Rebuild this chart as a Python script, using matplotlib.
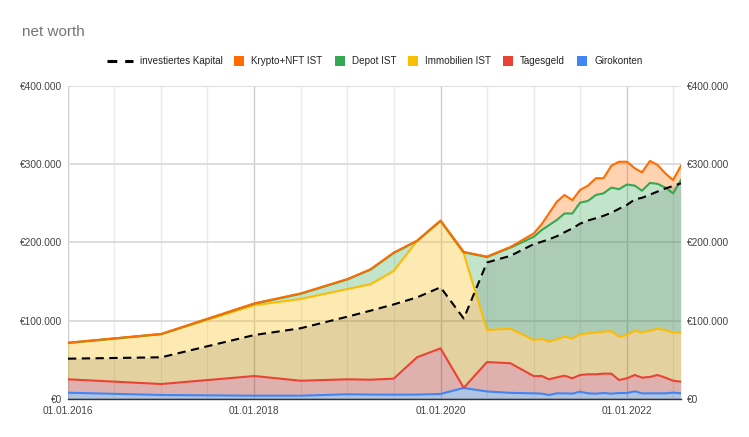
import matplotlib
matplotlib.use("Agg")
import matplotlib.pyplot as plt
import matplotlib.dates as mdates
import numpy as np
from matplotlib.lines import Line2D
from matplotlib.patches import Rectangle
from matplotlib.ticker import FuncFormatter, MultipleLocator

plt.rcParams['font.family'] = ['Liberation Sans', 'DejaVu Sans']

# ---------------- data (values in EUR thousands) ----------------
dates = ["2016-01-01", "2017-01-01", "2018-01-01", "2018-07-01", "2019-01-01",
         "2019-04-01", "2019-07-01", "2019-10-01", "2020-01-01", "2020-04-01",
         "2020-07-01", "2020-10-01", "2021-01-01", "2021-02-01", "2021-03-01",
         "2021-04-01", "2021-05-01", "2021-06-01", "2021-07-01", "2021-08-01",
         "2021-09-01", "2021-10-01", "2021-11-01", "2021-12-01", "2022-01-01",
         "2022-02-01", "2022-03-01", "2022-04-01", "2022-05-01", "2022-06-01",
         "2022-07-01", "2022-08-01"]

girokonten = [8.4, 5.5, 4.6, 4.6, 6.4, 6.0, 5.9, 6.0, 6.8, 14.5,
              10.0, 8.2, 7.6, 7.2, 5.5, 7.6, 7.6, 7.2, 9.7, 7.6,
              7.2, 8.0, 7.2, 8.0, 8.0, 10.2, 7.6, 7.6, 7.6, 7.6, 8.5, 7.6]
tagesgeld = [17.1, 14.0, 25.1, 19.1, 19.1, 19.0, 20.4, 47.6, 58.2, 0.2,
             37.5, 37.8, 21.9, 22.5, 20.0, 20.4, 22.5, 19.6, 21.3, 24.3,
             24.7, 24.7, 25.5, 16.6, 18.8, 20.8, 20.0, 20.9, 23.4, 20.0, 15.2, 14.9]
immobilien = [46.0, 63.5, 90.3, 104.3, 115.2, 121.7, 137.3, 148.4, 162.5, 171.3,
              40.9, 44.0, 46.1, 47.2, 48.0, 48.5, 49.8, 50.9, 51.9, 52.3,
              53.1, 53.6, 54.3, 55.3, 55.2, 56.5, 57.8, 59.0, 59.0, 60.7, 61.3, 62.5]
depot = [0.5, 0.2, 2.0, 6.5, 12.3, 18.6, 22.9, 0.0, 0.1, 1.5,
         93.1, 103.5, 131.8, 139.1, 148.5, 152.2, 157.1, 159.3, 167.9, 168.8,
         175.6, 176.4, 183.0, 188.1, 192.0, 185.0, 180.6, 188.5, 184.8, 181.7, 177.7, 194.7]
krypto = [0.2, 0.2, 0.4, 0.5, 0.4, 0.5, 0.5, 0.3, 0.4, 0.5,
          0.5, 0.8, 4.3, 7.6, 15.0, 23.3, 23.6, 17.0, 16.2, 19.5,
          21.4, 19.3, 28.0, 35.0, 29.0, 22.1, 23.5, 28.0, 24.2, 18.0, 17.0, 18.3]
kapital = [51.8, 53.6, 82.0, 90.6, 105.4, 113.0, 121.0, 130.0, 142.9, 103.0,
           174.5, 183.0, 198.0, 201.0, 204.0, 208.0, 213.0, 218.0, 224.0, 228.0,
           231.0, 234.0, 238.0, 243.0, 248.0, 255.0, 257.0, 261.0, 265.0, 269.0, 272.0, 275.5]

series_names = ["Girokonten", "Tagesgeld", "Immobilien IST", "Depot IST", "Krypto+NFT IST"]
series_colors = ["#4285F4", "#EA4335", "#FBBC04", "#34A853", "#FF6D01"]
kapital_name = "investiertes Kapital"

# ---------------- figure ----------------
W, H = 749, 437
fig = plt.figure(figsize=(W / 100, H / 100), dpi=100)
left_px, right_px, top_px, bot_px = 68, 681, 85.7, 399.3
ax = fig.add_axes([left_px / W, 1 - bot_px / H, (right_px - left_px) / W, (bot_px - top_px) / H])

x = mdates.date2num(np.array(dates, dtype="datetime64[D]"))
stack = np.array([girokonten, tagesgeld, immobilien, depot, krypto]) * 1000.0
kap = np.array(kapital) * 1000.0

ax.stackplot(x, stack, colors=series_colors, alpha=0.3, linewidth=0, zorder=2)
ax.fill_between(x, 0, kap, color="black", alpha=0.1, linewidth=0, zorder=3)

cum = np.cumsum(stack, axis=0)
for i in range(len(series_names)):
    ax.plot(x, cum[i], color=series_colors[i], lw=1.5, zorder=4 + i, solid_joinstyle="round")
ax.plot(x, kap, color="black", lw=1.5, dashes=(4, 2.6), zorder=10)

# axes
ax.set_ylim(0, 400000)
ax.set_xlim(mdates.date2num(np.datetime64("2016-01-01")), mdates.date2num(np.datetime64("2022-08-01")))
ax.yaxis.set_major_locator(MultipleLocator(100000))
ax.yaxis.set_major_formatter(FuncFormatter(lambda v, p: "€" + f"{int(round(v)):,}".replace(",", ".")))
ax.xaxis.set_major_locator(mdates.YearLocator(2, month=1, day=1))
ax.xaxis.set_minor_locator(mdates.MonthLocator(bymonth=[1, 7]))
ax.xaxis.set_major_formatter(mdates.DateFormatter("%d.%m.%Y"))

ax.grid(True, which="major", axis="y", color="#DADADA", lw=1.3, zorder=0)
ax.grid(True, which="major", axis="x", color="#CCCCCC", lw=1.0, zorder=0)
ax.grid(True, which="minor", axis="x", color="#EBEBEB", lw=1.0, zorder=0)
ax.set_axisbelow(True)

for s in ["top", "left", "right"]:
    ax.spines[s].set_visible(False)
ax.spines["bottom"].set_color("#333333")
ax.spines["bottom"].set_linewidth(1.0)
ax.spines["bottom"].set_zorder(20)

ax.tick_params(axis="both", which="both", length=0, labelsize=7.3, labelcolor="#444444")
ax.tick_params(axis="y", labelleft=True, labelright=True, pad=4)
ax.tick_params(axis="x", pad=5)

# title
fig.text(22 / W, 1 - 32 / H, "net worth", fontsize=11, color="#757575", va="center", ha="left")

# legend (manual layout, centred)
fig.canvas.draw()
renderer = fig.canvas.get_renderer()
fs = 7.1
entries = [(kapital_name, "dash", "black")] + [
    (series_names[i], "square", series_colors[i]) for i in range(len(series_names) - 1, -1, -1)]
handle_w = {"dash": 26, "square": 10}
gap_ht, gap_next = 7, 12
widths = []
for name, kind, col in entries:
    t = fig.text(0, 0, name, fontsize=fs)
    bb = t.get_window_extent(renderer=renderer)
    t.remove()
    widths.append(bb.width)
total = sum(handle_w[k] + gap_ht + w for (_, k, _), w in zip(entries, widths)) + gap_next * (len(entries) - 1)
cx = (W / 2) - total / 2
ly = H - 61
for (name, kind, col), w in zip(entries, widths):
    hw = handle_w[kind]
    if kind == "dash":
        fig.add_artist(Line2D([cx / W, (cx + hw) / W], [ly / H, ly / H], color=col, lw=2.2,
                              dashes=(3.2, 2.6), transform=fig.transFigure))
    else:
        fig.add_artist(Rectangle(((cx) / W, (ly - 5) / H), hw / W, 10 / H, facecolor=col,
                                 edgecolor="none", transform=fig.transFigure))
    fig.text((cx + hw + gap_ht) / W, ly / H, name, fontsize=fs, color="#222222", va="center", ha="left")
    cx += hw + gap_ht + w + gap_next

fig.savefig("out.png", dpi=100)
